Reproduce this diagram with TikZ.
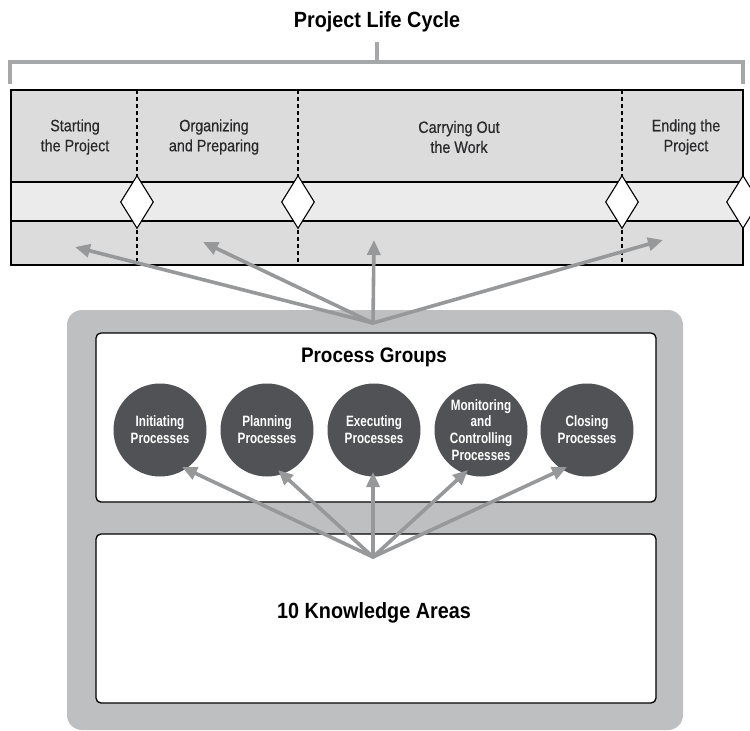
\documentclass[tikz,border=0pt]{standalone}
\usepackage{fontspec}
\setmainfont{Liberation Sans}
\newfontfamily\labfont[FakeStretch=0.87,FakeBold=0.5]{Liberation Sans}
\newfontfamily\headfont[FakeStretch=0.9]{Liberation Sans}
\newfontfamily\discfont[FakeStretch=0.78]{Liberation Sans}
\usetikzlibrary{arrows.meta,shapes.geometric}

\definecolor{bracketgray}{HTML}{A6A7A9}
\definecolor{phasegray}{HTML}{DCDCDD}
\definecolor{bandgray}{HTML}{EBEBEB}
\definecolor{framegray}{HTML}{BEBFC1}
\definecolor{discgray}{HTML}{515256}
\definecolor{arrowgray}{HTML}{97989A}
\definecolor{labelink}{HTML}{2A2A2C}

\tikzset{
  heading/.style={font=\headfont\bfseries\fontsize{21}{24}\selectfont, inner sep=0pt},
  phaselabel/.style={font=\labfont\fontsize{16.5}{20}\selectfont, text=labelink,
    align=center, inner sep=0pt},
  bracketline/.style={draw=bracketgray, line width=3.5pt},
  frameline/.style={draw=black, line width=1.3pt},
  phasedivider/.style={draw=black, line width=1.3pt, dash pattern=on 4pt off 3pt},
  milestone/.style={diamond, draw=black, fill=white, line width=1.1pt,
    inner sep=0pt, minimum width=33pt, minimum height=53pt},
  panel/.style={draw=black, fill=white, line width=1.3pt, rounded corners=5pt},
  groupdisc/.style={circle, fill=discgray, text=white, minimum size=93pt,
    inner sep=0pt, align=center,
    font=\discfont\bfseries\fontsize{15}{16.8}\selectfont},
  feed/.style={draw=arrowgray, line width=3.6pt, line cap=round, line join=round,
    -{Triangle[length=15pt,width=13pt]}}
}

\begin{document}
\begin{tikzpicture}[x=1pt,y=-1pt]
\useasboundingbox (0,0) rectangle (750,731);

% title and bracket spanning the life cycle
\node[heading, font=\headfont\bfseries\fontsize{22}{24}\selectfont] (title) at (377,22) {Project Life Cycle};
\draw[bracketline] (10,84) -- (10,62) -- (743,62) -- (743,84);
\draw[bracketline] (377,42) -- (377,62);

% life cycle phases
\fill[phasegray] (11,90) rectangle (743,265);
\fill[bandgray] (11,182) rectangle (743,221);
\draw[frameline] (11,182) -- (743,182);
\draw[frameline] (11,221) -- (743,221);
\draw[frameline] (11,90) rectangle (743,265);
\foreach \x in {137,298,622}
  \draw[phasedivider] (\x,90) -- (\x,265);

\node[milestone] (ms1) at (137,202) {};
\node[milestone] (ms2) at (298,202) {};
\node[milestone] (ms3) at (622,202) {};
\node[milestone] (ms4) at (743,202) {};

\node[phaselabel] (start) at (75,137) {Starting\\the Project};
\node[phaselabel] (organize) at (214,137) {Organizing\\and Preparing};
\node[phaselabel] (carry) at (459,137) {Carrying Out\\the Work};
\node[phaselabel] (ending) at (686,137) {Ending the\\Project};

% process groups and knowledge areas
\fill[framegray, rounded corners=15pt] (67,310) rectangle (683,730);
\draw[panel] (96,333) rectangle (656,502);
\draw[panel] (96,534) rectangle (656,703);

\node[heading] (pg) at (374,357) {Process Groups};
\node[heading, font=\headfont\bfseries\fontsize{22}{24}\selectfont] (ka) at (374,613) {10 Knowledge Areas};

\node[groupdisc] (init) at (160,430) {Initiating\\Processes};
\node[groupdisc] (plan) at (267,430) {Planning\\Processes};
\node[groupdisc] (exec) at (374,430) {Executing\\Processes};
\node[groupdisc] (moni) at (481,430) {Monitoring\\and\\Controlling\\Processes};
\node[groupdisc] (clos) at (587,430) {Closing\\Processes};

% hubs and arrow targets
\coordinate (uphub) at (373,323);
\coordinate (lowhub) at (373,557);
\coordinate (tStart) at (75,247);
\coordinate (tOrg) at (203,242);
\coordinate (tCarry) at (374,240);
\coordinate (tEnd) at (663,240);
\coordinate (tInit) at (182,467);
\coordinate (tPlan) at (278,470);
\coordinate (tExec) at (373,472);
\coordinate (tMoni) at (468,470);
\coordinate (tClos) at (567,467);

\foreach \t in {tStart,tOrg,tCarry,tEnd}
  \draw[feed] (uphub) -- (\t);
\foreach \t in {tInit,tPlan,tExec,tMoni,tClos}
  \draw[feed] (lowhub) -- (\t);
\end{tikzpicture}
\end{document}
